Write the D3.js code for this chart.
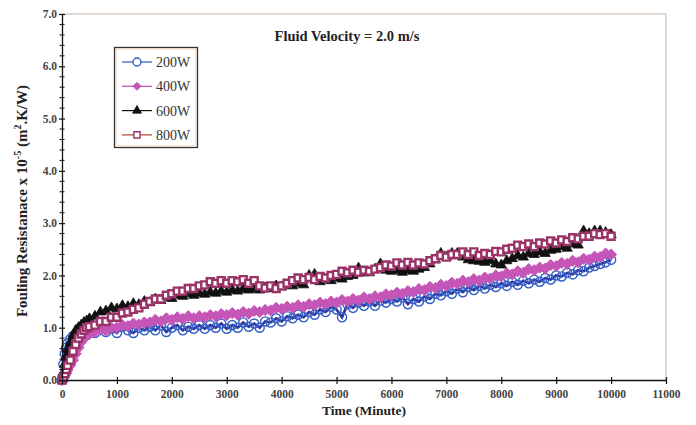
<!DOCTYPE html>
<html>
<head>
<meta charset="utf-8">
<script src="https://cdn.jsdelivr.net/npm/d3@7"></script>
<style>
  html, body { margin: 0; padding: 0; background: #ffffff; }
  svg { display: block; }
  text { font-family: "Liberation Serif", "DejaVu Serif", serif; }
</style>
</head>
<body>
<svg id="chart" width="696" height="425"></svg>
<script>
// ---------------- DATA ----------------
const seriesNames = ["200W", "400W", "600W", "800W"];
const xTickValues = [0, 1000, 2000, 3000, 4000, 5000, 6000, 7000, 8000, 9000, 10000, 11000];
const yTickValues = [0, 1, 2, 3, 4, 5, 6, 7];

// Time (minute)
const time = [
  0, 25, 50, 75, 100, 150, 200, 250, 300, 350, 400, 450, 500,
  600, 700, 800, 900, 1000, 1100, 1200, 1300, 1400, 1500,
  1600, 1700, 1800, 1900, 2000, 2100, 2200, 2300, 2400, 2500,
  2600, 2700, 2800, 2900, 3000, 3100, 3200, 3300, 3400, 3500,
  3600, 3700, 3800, 3900, 4000, 4100, 4200, 4300, 4400, 4500,
  4600, 4700, 4800, 4900, 5000, 5100, 5200, 5300, 5400, 5500,
  5600, 5700, 5800, 5900, 6000, 6100, 6200, 6300, 6400, 6500,
  6600, 6700, 6800, 6900, 7000, 7100, 7200, 7300, 7400, 7500,
  7600, 7700, 7800, 7900, 8000, 8100, 8200, 8300, 8400, 8500,
  8600, 8700, 8800, 8900, 9000, 9100, 9200, 9300, 9400, 9500,
  9600, 9700, 9800, 9900, 10000
];

// Fouling resistance x 1e-5 (m2.K/W)
const r200W = [
  0, 0.3, 0.5, 0.62, 0.7, 0.78, 0.84, 0.88, 0.9, 0.92, 0.92, 0.94, 0.95,
  0.9, 1.0, 0.92, 0.98, 0.9, 1.02, 0.95, 0.9, 1.0, 0.95,
  1.02, 0.95, 1.05, 0.92, 1.0, 1.05, 0.95, 1.02, 0.98, 1.05,
  0.98, 1.05, 1.0, 1.08, 0.98, 1.05, 1.0, 1.1, 1.02, 1.08,
  1.0, 1.12, 1.1, 1.18, 1.12, 1.22, 1.18, 1.25, 1.2, 1.3,
  1.25, 1.35, 1.3, 1.4, 1.35, 1.2, 1.45, 1.38, 1.48, 1.42,
  1.5, 1.42, 1.52, 1.48, 1.55, 1.5, 1.58, 1.45, 1.55, 1.5,
  1.6, 1.55, 1.65, 1.62, 1.7, 1.65, 1.75, 1.68, 1.78, 1.72,
  1.8, 1.75, 1.82, 1.78, 1.85, 1.8, 1.88, 1.82, 1.9, 1.85,
  1.92, 1.88, 1.95, 1.92, 2.0, 1.98, 2.05, 2.02, 2.1, 2.08,
  2.15, 2.18, 2.22, 2.25, 2.3
];

const r400W = [
  0, 0.04, 0.08, 0.13, 0.19, 0.28, 0.38, 0.5, 0.62, 0.73, 0.8, 0.85, 0.88,
  0.92, 0.96, 0.95, 1.0, 1.0, 1.05, 1.03, 1.08, 1.06, 1.1,
  1.1, 1.15, 1.12, 1.18, 1.15, 1.2, 1.17, 1.22, 1.18, 1.22,
  1.2, 1.24, 1.22, 1.26, 1.24, 1.28, 1.25, 1.3, 1.27, 1.32,
  1.3, 1.34, 1.33, 1.38, 1.36, 1.4, 1.38, 1.43, 1.4, 1.45,
  1.43, 1.48, 1.45, 1.5, 1.48, 1.53, 1.5, 1.55, 1.52, 1.58,
  1.55, 1.6, 1.58, 1.64, 1.62, 1.67, 1.65, 1.7, 1.68, 1.74,
  1.72, 1.78, 1.76, 1.82, 1.8, 1.86, 1.84, 1.9, 1.87, 1.93,
  1.9, 1.96, 1.94, 2.0, 1.98, 2.04, 2.02, 2.08, 2.05, 2.12,
  2.1, 2.15, 2.13, 2.2, 2.18, 2.24, 2.22, 2.28, 2.25, 2.32,
  2.3, 2.36, 2.35, 2.42, 2.4
];

const r600W = [
  0, 0.15, 0.3, 0.45, 0.58, 0.72, 0.85, 0.95, 1.0, 1.05, 1.1, 1.13, 1.17,
  1.22, 1.3, 1.32, 1.38, 1.36, 1.42, 1.4, 1.46, 1.44, 1.5,
  1.48, 1.55, 1.52, 1.58, 1.56, 1.62, 1.6, 1.65, 1.62, 1.66,
  1.64, 1.68, 1.66, 1.7, 1.68, 1.72, 1.7, 1.74, 1.72, 1.75,
  1.72, 1.76, 1.75, 1.8, 1.78, 1.82, 1.8, 1.85, 1.82, 2.0,
  2.02, 1.88, 1.92, 1.9, 1.95, 1.93, 1.98, 2.0, 2.14, 2.05,
  2.05, 2.12, 2.22, 2.1, 2.08, 2.1, 2.06, 2.1, 2.08, 2.12,
  2.15, 2.22, 2.3, 2.42, 2.35, 2.42, 2.42, 2.35, 2.3, 2.28,
  2.27, 2.25, 2.28, 2.22, 2.2, 2.28, 2.32, 2.38, 2.35, 2.42,
  2.4, 2.45, 2.42, 2.48, 2.5, 2.55, 2.52, 2.6, 2.58, 2.85,
  2.8, 2.85, 2.85, 2.82, 2.78
];

const r800W = [
  0, 0.05, 0.12, 0.2, 0.28, 0.38, 0.55, 0.68, 0.8, 0.88, 0.95, 1.0, 1.02,
  1.05, 1.12, 1.12, 1.2, 1.2, 1.28, 1.3, 1.35, 1.38, 1.45,
  1.5, 1.55, 1.55, 1.62, 1.65, 1.7, 1.7, 1.75, 1.75, 1.8,
  1.82, 1.88, 1.85, 1.9, 1.85, 1.9, 1.88, 1.92, 1.85, 1.9,
  1.8, 1.76, 1.8, 1.75, 1.8, 1.85, 1.9, 1.95, 1.92, 1.96,
  1.92, 1.98, 1.95, 2.0, 2.02, 2.08, 2.05, 2.1, 2.06, 2.1,
  2.08, 2.12, 2.15, 2.2, 2.18, 2.24, 2.2, 2.25, 2.2, 2.24,
  2.22, 2.28, 2.32, 2.38, 2.35, 2.4, 2.4, 2.45, 2.4, 2.45,
  2.38, 2.42, 2.4, 2.46, 2.45, 2.5, 2.52, 2.58, 2.55, 2.6,
  2.55, 2.62, 2.6, 2.66, 2.62, 2.68, 2.65, 2.72, 2.7, 2.75,
  2.75, 2.8, 2.78, 2.8, 2.75
];

const seriesValues = [r200W, r400W, r600W, r800W];

// ---------------- STYLES ----------------
const W = 696, H = 425;
const plot = { left: 62, right: 666, top: 14, bottom: 380 };
const styles = [
  { line: "#33339a", lw: 2.6, stroke: "#3361c8", fill: "none", shape: "circle", size: 66, sw: 1.4, lsize: 50 },
  { line: "#c04ab0", lw: 2.6, stroke: "#c655b8", fill: "#c655b8", shape: "diamond", size: 62, sw: 1, lsize: 32 },
  { line: "#111111", lw: 2, stroke: "#111111", fill: "#111111", shape: "triangle", size: 46, sw: 0.8, lsize: 34 },
  { line: "#9a3368", lw: 2, stroke: "#9a3368", fill: "#ffffff", shape: "square", size: 49, sw: 2.4, lsize: 38 }
];
const legendLineColors = ["#3355bb", "#c04ab0", "#111111", "#a84438"];

const diamondType = {
  draw(ctx, size) {
    const r = Math.sqrt(size / 2);
    ctx.moveTo(0, -r); ctx.lineTo(r, 0); ctx.lineTo(0, r); ctx.lineTo(-r, 0); ctx.closePath();
  }
};
const shapeType = {
  circle: d3.symbolCircle,
  diamond: diamondType,
  triangle: d3.symbolTriangle,
  square: d3.symbolSquare
};

const svg = d3.select("#chart");
svg.append("rect").attr("width", W).attr("height", H).attr("fill", "#ffffff");

const x = d3.scaleLinear().domain([0, 11000]).range([plot.left, plot.right]);
const y = d3.scaleLinear().domain([0, 7]).range([plot.bottom, plot.top]);

// plot frame (top & right)
svg.append("path")
  .attr("d", `M${plot.left},${plot.top}H${plot.right}V${plot.bottom}`)
  .attr("fill", "none").attr("stroke", "#c4b4a4").attr("stroke-width", 1);

// ---------------- SERIES ----------------
const line = d3.line().x(d => x(d.t)).y(d => y(d.v));
const gSeries = svg.append("g");
seriesValues.forEach((vals, i) => {
  const st = styles[i];
  const pts = vals.map((v, k) => ({ t: time[k], v }));
  const g = gSeries.append("g");
  g.append("path").datum(pts).attr("d", line)
    .attr("fill", "none").attr("stroke", st.line).attr("stroke-width", st.lw);
  const sym = d3.symbol().type(shapeType[st.shape]).size(st.size);
  g.selectAll("path.m").data(pts).join("path").attr("class", "m")
    .attr("transform", d => `translate(${x(d.t)},${y(d.v)})`)
    .attr("d", sym)
    .attr("fill", st.fill).attr("stroke", st.stroke).attr("stroke-width", st.sw);
});

// ---------------- AXES ----------------
const yAxis = d3.axisLeft(y).tickValues(yTickValues).tickFormat(d3.format(".1f"))
  .tickSizeInner(4).tickSizeOuter(0).tickPadding(1);
const gy = svg.append("g").attr("transform", `translate(${plot.left},0)`).call(yAxis);
gy.select(".domain").attr("stroke", "#111").attr("stroke-width", 1.3);
gy.selectAll(".tick line").attr("x1", 3).attr("x2", -3).attr("stroke", "#111").attr("stroke-width", 1.2);
gy.selectAll(".tick text").attr("font-size", 11.5).attr("fill", "#444")
  .attr("font-family", "Liberation Serif, serif").attr("font-weight", "bold");

const yMinor = d3.range(0, 7.001, 0.2).filter(v => Math.abs(v - Math.round(v)) > 0.01);
const gym = svg.append("g").attr("transform", `translate(${plot.left},0)`);
gym.selectAll("line").data(yMinor).join("line")
  .attr("x1", -2.5).attr("x2", 2.5).attr("y1", d => y(d)).attr("y2", d => y(d))
  .attr("stroke", "#111").attr("stroke-width", 1);

const xAxis = d3.axisBottom(x).tickValues(xTickValues).tickFormat(d3.format("d"))
  .tickSizeInner(4).tickSizeOuter(0).tickPadding(6);
const gx = svg.append("g").attr("transform", `translate(0,${plot.bottom})`).call(xAxis);
gx.select(".domain").attr("stroke", "#111").attr("stroke-width", 1.3);
gx.selectAll(".tick line").attr("y1", -3).attr("y2", 4).attr("stroke", "#111").attr("stroke-width", 1.2);
gx.selectAll(".tick text").attr("font-size", 11.5).attr("fill", "#444")
  .attr("font-family", "Liberation Serif, serif").attr("font-weight", "bold");

// ---------------- TITLES ----------------
svg.append("text").attr("x", 347).attr("y", 41).attr("text-anchor", "middle")
  .attr("font-size", 14.5).attr("font-weight", "bold").attr("fill", "#222")
  .text("Fluid Velocity = 2.0 m/s");

svg.append("text").attr("x", 364).attr("y", 415).attr("text-anchor", "middle")
  .attr("font-size", 13.5).attr("font-weight", "bold").attr("fill", "#222")
  .text("Time (Minute)");

const yt = svg.append("text").attr("transform", "translate(27,201) rotate(-90)")
  .attr("text-anchor", "middle").attr("font-size", 15).attr("font-weight", "bold").attr("fill", "#222");
yt.append("tspan").text("Fouling Resistanace x 10");
yt.append("tspan").attr("dy", -6).attr("font-size", 10).text("-5");
yt.append("tspan").attr("dy", 6).text(" (m");
yt.append("tspan").attr("dy", -6).attr("font-size", 10).text("2");
yt.append("tspan").attr("dy", 6).text(".K/W)");

// ---------------- LEGEND ----------------
const lg = svg.append("g");
lg.append("rect").attr("x", 114.5).attr("y", 47.5).attr("width", 83).attr("height", 100)
  .attr("fill", "#ffffff").attr("stroke", "#333").attr("stroke-width", 1.3);
lg.append("rect").attr("x", 116).attr("y", 49).attr("width", 80).attr("height", 97)
  .attr("fill", "none").attr("stroke", "#f0c8b0").attr("stroke-width", 0.8);
seriesNames.forEach((name, i) => {
  const st = styles[i];
  const ly = 62 + i * 24.3;
  lg.append("line").attr("x1", 122).attr("x2", 152).attr("y1", ly).attr("y2", ly)
    .attr("stroke", legendLineColors[i]).attr("stroke-width", 1.2);
  lg.append("path").attr("transform", `translate(137,${ly})`)
    .attr("d", d3.symbol().type(shapeType[st.shape]).size(st.lsize)())
    .attr("fill", st.fill === "none" ? "#ffffff" : st.fill)
    .attr("stroke", st.stroke).attr("stroke-width", Math.min(st.sw, 1.4));
  lg.append("text").attr("x", 156).attr("y", ly + 5).attr("font-size", 14)
    .attr("fill", "#333").text(name);
});
</script>
</body>
</html>
